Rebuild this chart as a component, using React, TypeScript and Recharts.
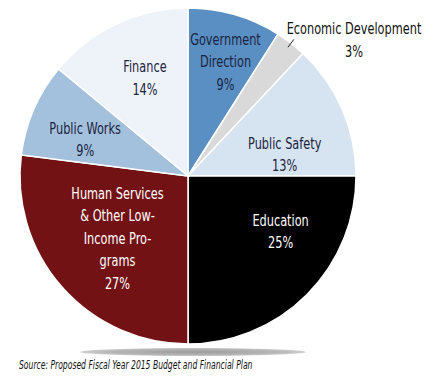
import { PieChart, Pie, Cell } from "recharts";

const categories = [
  "Government Direction",
  "Economic Development",
  "Public Safety",
  "Education",
  "Human Services & Other Low-Income Programs",
  "Public Works",
  "Finance",
];

const shares = [9, 3, 13, 25, 27, 9, 14];

// how each label is broken into lines inside the slice
const labelLines: string[][] = [
  ["Government", "Direction"],
  ["Economic Development"],
  ["Public Safety"],
  ["Education"],
  ["Human Services", "& Other Low-", "Income Pro-", "grams"],
  ["Public Works"],
  ["Finance"],
];

const COLORS = [
  "#5a8fc4",
  "#d9d9d9",
  "#d6e3f0",
  "#000000",
  "#731214",
  "#a3c0dc",
  "#eef3fa",
];

const TEXT_COLORS = [
  "#1b2440",
  "#111111",
  "#1b2440",
  "#ffffff",
  "#ffffff",
  "#1b2440",
  "#1b2440",
];

// label radius and clockwise nudge (degrees) per slice
const LABEL_POS = [
  { r: 120, shift: 2 },
  { r: 0, shift: 0 },
  { r: 99, shift: 11 },
  { r: 108, shift: -14 },
  { r: 94, shift: 0 },
  { r: 109, shift: -4 },
  { r: 107, shift: 1.5 },
];

const FONT = "'DejaVu Sans Condensed', 'DejaVu Sans', sans-serif";
const SQUEEZE = 0.84;
const RAD = Math.PI / 180;

const data = categories.map((name, i) => ({
  name,
  value: shares[i],
  idx: i,
}));

function NarrowText({ x, y, fill, children }: any) {
  return (
    <text
      transform={`translate(${x},${y}) scale(${SQUEEZE},1)`}
      x={0}
      y={0}
      textAnchor="middle"
      dominantBaseline="central"
      fill={fill}
      fontFamily={FONT}
      fontSize={15}
    >
      {children}
    </text>
  );
}

function renderLabel(props: any) {
  const { cx, cy, midAngle, outerRadius, payload, index } = props;
  const i = payload?.idx ?? index;
  const lineH = 22.5;
  const lines = [...labelLines[i], `${shares[i]}%`];

  if (i === 1) {
    const a = -midAngle * RAD;
    const x1 = cx + (outerRadius - 5) * Math.cos(a);
    const y1 = cy + (outerRadius - 5) * Math.sin(a);
    const x2 = cx + (outerRadius + 5) * Math.cos(a);
    const y2 = cy + (outerRadius + 5) * Math.sin(a);
    return (
      <g>
        <line x1={x1} y1={y1} x2={x2} y2={y2} stroke="#222" strokeWidth={1} />
        {lines.map((t, k) => (
          <NarrowText key={k} x={354} y={29 + k * 23} fill={TEXT_COLORS[i]}>
            {t}
          </NarrowText>
        ))}
      </g>
    );
  }

  const pos = LABEL_POS[i];
  const ang = (midAngle - pos.shift) * RAD;
  const x = cx + pos.r * Math.cos(-ang);
  const y = cy + pos.r * Math.sin(-ang);
  const top = y - ((lines.length - 1) * lineH) / 2;
  return (
    <g>
      {lines.map((t, k) => (
        <NarrowText key={k} x={x} y={top + k * lineH} fill={TEXT_COLORS[i]}>
          {t}
        </NarrowText>
      ))}
    </g>
  );
}

export default function App() {
  return (
    <div
      style={{
        position: "absolute",
        left: 0,
        top: 0,
        width: 433,
        height: 381,
        background: "#ffffff",
        overflow: "hidden",
      }}
    >
      <div
        style={{
          position: "absolute",
          left: 80,
          top: 348,
          width: 226,
          height: 8,
          borderRadius: "50%",
          background:
            "radial-gradient(ellipse at center, #9a9a9a 0%, #b8b8b8 55%, rgba(220,220,220,0) 100%)",
        }}
      />
      <div style={{ position: "absolute", left: 0, top: 0 }}>
        <PieChart
          width={433}
          height={381}
          margin={{ top: 0, right: 0, bottom: 0, left: 0 }}
        >
          <Pie
            data={data}
            dataKey="value"
            nameKey="name"
            cx={188}
            cy={176}
            outerRadius={168}
            startAngle={90}
            endAngle={-270}
            stroke="#ffffff"
            strokeWidth={1.5}
            label={renderLabel}
            labelLine={false}
            isAnimationActive={false}
          >
            {data.map((entry, index) => (
              <Cell key={`cell-${index}`} fill={COLORS[index]} />
            ))}
          </Pie>
        </PieChart>
      </div>
      <div
        style={{
          position: "absolute",
          left: 19,
          top: 357,
          fontFamily: FONT,
          fontStyle: "italic",
          fontSize: 12.5,
          color: "#111",
          whiteSpace: "nowrap",
          transform: "scaleX(0.68)",
          transformOrigin: "left top",
        }}
      >
        Source: Proposed Fiscal Year 2015 Budget and Financial Plan
      </div>
    </div>
  );
}
